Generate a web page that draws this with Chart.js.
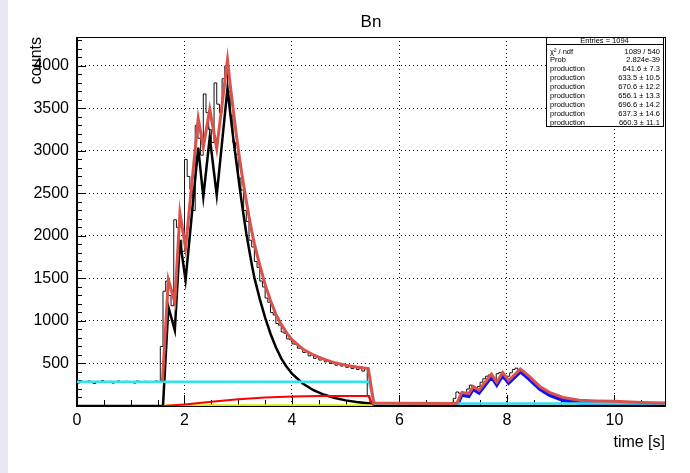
<!DOCTYPE html>
<html><head><meta charset="utf-8">
<script src="https://cdn.jsdelivr.net/npm/chart.js@4/dist/chart.umd.min.js"></script>
<style>html,body{margin:0;padding:0;background:#fff;}#wrap{position:relative;width:690px;height:473px;}canvas{display:block;}</style>
</head><body><div id="wrap"><canvas id="c" width="690" height="473"></canvas></div>
<script>
// ---------------- data ----------------
const histBinWidth = 0.05;
const histCounts = [
 285,270,290,280,275,295,280,265, 290,285,300,275,280,290,270,285,
 295,280,275,290,285,280,270,295, 285,280,290,275,285,280,295,285,
 700,1350,1470,1300,1180,2190,2100,1950,1820,2900,2700,2550,2300,3300,3150,2950,3670,3450,3250,3100,3800,3550,3450,3850,4000,
 3700,3420,3100,2960,2680,2540,2300,2170,1950,1870,1700,1630,1470,1400,1270,1220,1100,1070,970,950,870,855,790,780,730,725,680,690,630,640,590,605,560,580,540,560,520,535,500,515,480,500,470,490,455,470,440,465,430,440,410,450,120,30,
 28,33,25,31,36,27,30,24,34,29,31,26,35,30,28,33,25,30,37,27,31,29,34,26,30,32,28,35,29,30,
 90,165,150,140,150,200,245,205,190,230,280,320,350,365,300,310,380,395,320,310,350,390,430,445,410,390,360,330,300,275,245,220,195,180,160,150,135,120,110,100,95,85,80,75,70,68,65,60,62,55,
 58,52,55,48,53,47,50,45,49,44,47,42,46,40,44,41,39,43,38,41,36,40,37,35,39,34,37,33
];
const totalFitT = [1.59,1.70,1.82,1.915,2.02,2.255,2.35,2.47,2.60,2.80,2.85,2.90,2.95,3.00,3.05,3.10,3.15,3.20,3.25,3.30,3.35,3.40,3.50,3.60,3.70,3.80,3.90,4.00,4.20,4.40,4.60,4.80,5.00,5.20,5.42,5.52,6.00,7.00,7.07,7.16,7.29,7.37,7.48,7.71,7.81,7.92,8.03,8.25,8.42,8.61,8.79,9.04,9.35,9.66,10.0,10.5,10.94];
const totalFitY = [290,1485,1220,2270,1860,3380,3045,3490,3030,4070,3780,3520,3260,3020,2800,2600,2410,2230,2060,1910,1780,1660,1430,1240,1080,960,860,780,670,600,548,508,480,458,441,35,32,30,36,160,145,230,185,375,280,395,300,435,345,230,160,100,68,60,55,42,36];
const shortLivedT = [0,1.60,1.70,1.82,1.915,2.02,2.255,2.35,2.47,2.60,2.80,2.85,2.90,2.95,3.00,3.05,3.10,3.15,3.20,3.25,3.30,3.40,3.50,3.60,3.70,3.80,3.90,4.00,4.20,4.40,4.60,4.80,5.00,5.20,5.45,5.52,10.94];
const shortLivedY = [0,0,1165,890,1950,1480,3040,2460,3160,2480,3735,3450,3190,2940,2700,2460,2240,2030,1850,1670,1510,1260,1040,850,690,560,460,380,265,186,132,94,66,46,30,0,0];
const backgroundT = [0,5.43,5.54,10.94];
const backgroundY = [285,285,30,30];
const growthT = [1.60,1.80,2.00,2.50,3.00,3.50,4.00,4.50,5.00,5.42,5.52];
const growthY = [0,8,18,50,80,100,112,117,118,118,0];
const smallT = [1.66,5.52];
const smallY = [6,6];
const secondT = [7.00,7.07,7.16,7.29,7.37,7.48,7.71,7.81,7.92,8.03,8.25,8.42,8.61,8.79,9.04,9.35,9.66,10.0,10.5,10.94];
const secondY = [0,5,128,113,198,153,343,248,363,268,403,313,198,128,68,36,22,14,8,5];
const xTickValues = [0, 2, 4, 6, 8, 10];
const yTickValues = [500, 1000, 1500, 2000, 2500, 3000, 3500, 4000];
const statsLabels = ['\u03C7\u00B2 / ndf','Prob','production','production','production','production','production','production','production'];
const statsValues = ['1089 / 540','2.824e-39','641.6 \u00B1 7.3','633.5 \u00B1 10.5','670.6 \u00B1 12.2','656.1 \u00B1 13.3','696.6 \u00B1 14.2','637.3 \u00B1 14.6','660.3 \u00B1 11.1'];
const statsHeader = 'Entries = 1094';
const titleText = 'Bn';
const xTitle = 'time [s]';
const yTitle = 'counts';

// ---------------- chart ----------------
const FONT = "'Liberation Sans', Arial, Helvetica, sans-serif";
const pts = (ts, ys) => ts.map((t, i) => ({x: t, y: ys[i]}));
const histPts = histCounts.map((c, i) => ({x: i * histBinWidth, y: c}));
histPts.push({x: histCounts.length * histBinWidth, y: histCounts[histCounts.length - 1]});

const line = (data, color, w) => ({data, borderColor: color, borderWidth: w, fill: false, pointRadius: 0, tension: 0});

const decor = {
  id: 'decor',
  beforeDraw(chart) {
    const {ctx, width, height} = chart;
    ctx.save();
    ctx.fillStyle = '#ffffff'; ctx.fillRect(0, 0, width, height);
    ctx.fillStyle = '#e9e5f1'; ctx.fillRect(0, 0, 8, height);
    ctx.restore();
  },
  beforeDatasetsDraw(chart) {
    const {ctx, chartArea: a, scales: {x, y}} = chart;
    ctx.save();
    ctx.strokeStyle = '#000';
    ctx.lineWidth = 1;
    ctx.beginPath();
    for (let k = 0; k * 0.5 <= x.max; k++) {
      const px = Math.round(x.getPixelForValue(k * 0.5)) + 0.5;
      const len = (k % 4 === 0) ? 11 : 6;
      ctx.moveTo(px, a.bottom); ctx.lineTo(px, a.bottom - len);
    }
    for (let k = 0; k * 100 <= y.max; k++) {
      const py = Math.round(y.getPixelForValue(k * 100)) + 0.5;
      const len = (k % 5 === 0) ? 9 : 5;
      ctx.moveTo(a.left, py); ctx.lineTo(a.left + len, py);
    }
    ctx.stroke();
    ctx.strokeRect(Math.round(a.left) + 0.5, Math.round(a.top) + 0.5, Math.round(a.right - a.left), Math.round(a.bottom - a.top));
    ctx.lineWidth = 2;
    ctx.beginPath();
    ctx.moveTo(Math.round(a.left), Math.round(a.top));
    ctx.lineTo(Math.round(a.left), Math.round(a.bottom));
    ctx.lineTo(Math.round(a.right) + 1, Math.round(a.bottom));
    ctx.stroke();
    ctx.restore();
  },
  afterDraw(chart) {
    const {ctx, chartArea: a} = chart;
    ctx.save();
    ctx.fillStyle = '#000';
    ctx.font = '17px ' + FONT;
    ctx.textAlign = 'center'; ctx.textBaseline = 'alphabetic';
    ctx.fillText(titleText, (a.left + a.right) / 2, 27);
    ctx.font = '16px ' + FONT;
    ctx.textAlign = 'right';
    ctx.fillText(xTitle, a.right, 447);
    ctx.save();
    ctx.translate(41, a.top);
    ctx.rotate(-Math.PI / 2);
    ctx.textAlign = 'right';
    ctx.fillText(yTitle, 0, 0);
    ctx.restore();
    // stats box
    const bx = 546, by = a.top, bw = 117, bh = 89;
    ctx.fillStyle = '#fff';
    ctx.fillRect(bx, by, bw, bh);
    ctx.strokeStyle = '#000'; ctx.lineWidth = 1;
    ctx.strokeRect(bx + 0.5, by + 0.5, bw, bh);
    ctx.beginPath(); ctx.moveTo(bx, by + 7.5); ctx.lineTo(bx + bw, by + 7.5); ctx.stroke();
    ctx.fillStyle = '#000';
    ctx.font = '7.5px ' + FONT;
    ctx.textBaseline = 'middle';
    ctx.textAlign = 'center';
    ctx.fillText(statsHeader, bx + bw / 2, by + 4);
    const step = (bh - 9) / statsLabels.length;
    statsLabels.forEach((lab, i) => {
      const yy = by + 10 + step * i + step / 2;
      ctx.textAlign = 'left'; ctx.fillText(lab, bx + 4, yy);
      ctx.textAlign = 'right'; ctx.fillText(statsValues[i], bx + bw - 3, yy);
    });
    ctx.restore();
  }
};

new Chart(document.getElementById('c'), {
  type: 'line',
  data: {datasets: [
    line(pts(totalFitT, totalFitY), '#d9534c', 3),
    line(pts(backgroundT, backgroundY), '#2fe3f0', 2.5),
    line(pts(growthT, growthY), '#ff0000', 2),
    line(pts(smallT, smallY), '#dcee00', 2.5),
    line(pts(shortLivedT, shortLivedY), '#000000', 2.5),
    line(pts(secondT, secondY), '#1010ff', 3.5),
    Object.assign(line(histPts, '#111111', 1), {stepped: 'after'})
  ]},
  options: {
    responsive: false, animation: false, devicePixelRatio: 1,
    layout: {padding: {top: 37, right: 25, left: 0, bottom: 0}},
    plugins: {legend: {display: false}, tooltip: {enabled: false}, title: {display: false}},
    scales: {
      x: {
        type: 'linear', min: 0, max: 10.94,
        afterFit(s) { s.height = 67; },
        afterBuildTicks(s) { s.ticks = xTickValues.map(v => ({value: v})); },
        ticks: {padding: 5, color: '#000', font: {family: FONT, size: 16}, maxRotation: 0, autoSkip: false},
        grid: {color: '#000', lineWidth: 1, drawTicks: false},
        border: {display: false, dash: [1, 3]}
      },
      y: {
        type: 'linear', min: 0, max: 4340,
        afterFit(s) { s.width = 77; },
        afterBuildTicks(s) { s.ticks = yTickValues.map(v => ({value: v})); },
        ticks: {padding: 8, color: '#000', font: {family: FONT, size: 16}, autoSkip: false,
          callback: v => String(v)},
        grid: {color: '#000', lineWidth: 1, drawTicks: false},
        border: {display: false, dash: [1, 3]}
      }
    }
  },
  plugins: [decor]
});
</script>
</body></html>
